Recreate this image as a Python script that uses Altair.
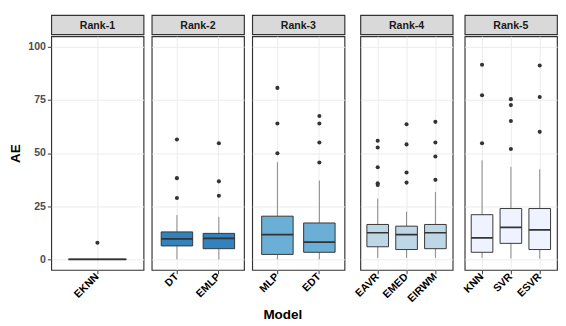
import altair as alt
import pandas as pd

# ---- data ----
rank_names = ["Rank-1", "Rank-2", "Rank-3", "Rank-4", "Rank-5"]
rank_colors = ["#08519c", "#3182bd", "#6baed6", "#bdd7e7", "#eff3ff"]

models = ["EKNN", "DT", "EMLP", "MLP", "EDT", "EAVR", "EMED", "EIRWM", "KNN", "SVR", "ESVR"]
model_rank = ["Rank-1", "Rank-2", "Rank-2", "Rank-3", "Rank-3",
              "Rank-4", "Rank-4", "Rank-4", "Rank-5", "Rank-5", "Rank-5"]
whisk_lo = [0.0, 0.0, 0.0, 0.0, 0.0, 0.7, 0.7, 0.7, 0.7, 0.4, 0.3]
box_q1 = [0.0, 6.3, 5.0, 2.3, 3.3, 5.9, 4.6, 5.0, 3.3, 7.5, 4.6]
box_med = [0.0, 9.6, 9.9, 11.6, 8.1, 12.5, 11.6, 12.5, 10.1, 15.0, 13.8]
box_q3 = [0.0, 12.9, 12.2, 20.3, 17.1, 16.4, 15.6, 16.4, 21.0, 23.9, 23.9]
whisk_hi = [0.0, 20.8, 20.0, 45.7, 37.1, 28.6, 22.4, 31.7, 46.6, 43.5, 42.4]

out_model = ["EKNN",
             "DT", "DT", "DT",
             "EMLP", "EMLP", "EMLP",
             "MLP", "MLP", "MLP",
             "EDT", "EDT", "EDT", "EDT",
             "EAVR", "EAVR", "EAVR", "EAVR", "EAVR",
             "EMED", "EMED", "EMED", "EMED",
             "EIRWM", "EIRWM", "EIRWM", "EIRWM",
             "KNN", "KNN", "KNN",
             "SVR", "SVR", "SVR", "SVR",
             "ESVR", "ESVR", "ESVR"]
out_value = [7.8,
             28.9, 38.2, 56.4,
             29.9, 36.7, 54.6,
             49.9, 63.9, 80.7,
             45.6, 55.0, 63.9, 67.5,
             35.0, 35.8, 43.3, 52.6, 55.8,
             36.1, 40.9, 54.1, 63.6,
             37.4, 48.4, 55.0, 64.7,
             54.6, 77.2, 91.6,
             51.9, 65.1, 72.6, 75.4,
             60.0, 76.4, 91.2]

y_ticks = [0, 12.5, 25, 37.5, 50, 62.5, 75, 87.5, 100]

# ---- tables ----
box_df = pd.DataFrame({"model": models, "rank": model_rank, "lo": whisk_lo,
                       "q1": box_q1, "med": box_med, "q3": box_q3, "hi": whisk_hi})
rank_of = dict(zip(models, model_rank))
out_df = pd.DataFrame({"model": out_model, "value": out_value,
                       "rank": [rank_of[m] for m in out_model]})
strip_df = pd.DataFrame({"rank": rank_names})

FONT = "Liberation Sans"
PW, PH, SH = 96, 243, 20
color = alt.Color("rank:N", scale=alt.Scale(domain=rank_names, range=rank_colors), legend=None)
major = "datum.value % 25 == 0"


def yaxis(show):
    common = dict(values=y_ticks, grid=True, domain=False,
                  gridColor="#ebebeb",
                  gridWidth={"condition": {"test": major, "value": 1.0}, "value": 0.5})
    if show:
        return alt.Axis(title="AE", titleFont=FONT, titleFontSize=14, titleFontWeight="bold",
                        titleColor="#000", titlePadding=6,
                        labelExpr=f"{major} ? datum.label : ''",
                        labelFont=FONT, labelFontSize=11, labelFontWeight="bold",
                        labelColor="#4d4d4d", labelPadding=2,
                        tickSize=4, tickColor={"condition": {"test": major, "value": "#333"},
                                               "value": "transparent"},
                        **common)
    return alt.Axis(title=None, labels=False, ticks=False, **common)


def panel(r, i):
    b = alt.Chart(box_df).transform_filter(alt.datum.rank == r)
    o = alt.Chart(out_df).transform_filter(alt.datum.rank == r)
    x = alt.X("model:N", sort=models, title=None,
              scale=alt.Scale(paddingInner=0, paddingOuter=0.1),
              axis=alt.Axis(labelAngle=315, labelAlign="right", labelBaseline="middle",
                            labelFont=FONT, labelFontSize=11, labelFontWeight="bold",
                            labelColor="#000", labelPadding=1, tickSize=4, tickColor="#333",
                            domain=False, grid=True, gridColor="#ebebeb", gridWidth=1))
    ysc = alt.Scale(domain=[-5, 105], nice=False, zero=False)
    lo_rule = b.mark_rule(color="#555", strokeWidth=0.7).encode(
        x=x, y=alt.Y("lo:Q", scale=ysc, axis=yaxis(i == 0)), y2="q1:Q")
    hi_rule = b.mark_rule(color="#555", strokeWidth=0.7).encode(x=x, y="q3:Q", y2="hi:Q")
    box = b.mark_bar(width=alt.RelativeBandSize(0.75), stroke="#333", strokeWidth=1).encode(
        x=x, y="q1:Q", y2="q3:Q", color=color)
    med = b.mark_bar(width=alt.RelativeBandSize(0.75), stroke="#333", strokeWidth=1.8,
                     fill="#333").encode(x=x, y="med:Q", y2="med:Q")
    pts = o.mark_circle(size=18, color="#333", opacity=1).encode(x=x, y="value:Q")
    plot = alt.layer(lo_rule, hi_rule, box, med, pts).properties(
        width=PW, height=PH, view=alt.ViewBackground(stroke="#333", strokeWidth=1.2, fill="white"))
    strip = alt.Chart(strip_df).transform_filter(alt.datum.rank == r).mark_text(
        font=FONT, fontSize=11, fontWeight="bold", color="#1a1a1a").encode(
        text="rank:N", x=alt.value(PW / 2), y=alt.value(SH / 2 + 1)).properties(
        width=PW, height=SH, view=alt.ViewBackground(fill="#d9d9d9", stroke="#333", strokeWidth=1.2))
    return alt.vconcat(strip, plot, spacing=0)


chart = alt.hconcat(*[panel(r, i) for i, r in enumerate(rank_names)], spacing=6.5).properties(
    title=alt.TitleParams("Model", orient="bottom", anchor="middle", font=FONT, fontSize=14,
                          fontWeight="bold", color="#000", offset=4),
    padding={"top": 0, "left": 0, "right": 0, "bottom": 0},
    background="white",
)

chart.save("out.html", embed_options={"renderer": "svg", "actions": False})
